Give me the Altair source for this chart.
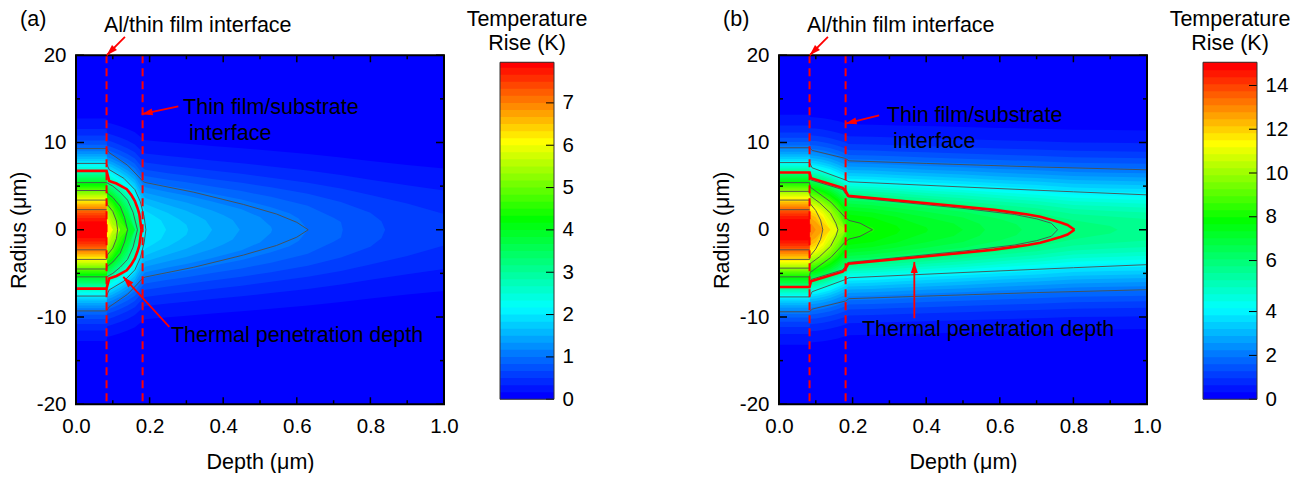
import altair as alt
import pandas as pd

W, H = 368, 349
FONT = "Liberation Sans"
FONT_SIZE = 21.5
RED = "#ff0000"
AL_EDGE = 0.083
FILM_EDGE = 0.181

BAND_COLOURS = ["#0000ff", "#00ffff", "#00ff00", "#ffff00", "#ff0000"]
BAND_STOPS = [0, 12.5, 25, 36, 47]

# ---------- panel (a): contour levels and the radius of each level ----------
LEVELS_A = [0, .167, .333, .5, .667, .833, 1, 1.167, 1.333, 1.5, 1.667, 1.833, 2, 2.167, 2.333, 2.5, 2.667, 2.833,
            3, 3.167, 3.333, 3.5, 3.667, 3.833, 4, 4.167, 4.333, 4.5, 4.667, 4.833, 5, 5.167, 5.333, 5.5, 5.667,
            5.833, 6, 6.167, 6.333, 6.5, 6.667, 6.833, 7, 7.167, 7.333, 7.5, 7.667, 7.833, 7.96]
AL_R_A = [12.75, 11.55, 10.79, 10.22, 9.75, 9.35, 8.99, 8.68, 8.39, 8.12, 7.87, 7.63, 7.41, 7.2, 6.99, 6.79, 6.6,
          6.42, 6.24, 6.07, 5.89, 5.73, 5.56, 5.4, 5.24, 5.08, 4.92, 4.76, 4.6, 4.45, 4.29, 4.13, 3.97, 3.81, 3.64,
          3.48, 3.31, 3.13, 2.95, 2.77, 2.58, 2.37, 2.16, 1.92, 1.65, 1.34, .96]
FILM_X_A = [.085, .10, .12, .14, .16, .183]
FILM_R_A = [
    [12.3, 12.13, 11.86, 11.55, 11.17, 10.36], [11.05, 10.87, 10.56, 10.22, 9.78, 8.85],
    [10.25, 10.05, 9.72, 9.34, 8.87, 7.83], [9.64, 9.43, 9.08, 8.67, 8.16, 7.01],
    [9.14, 8.92, 8.55, 8.12, 7.56, 6.31], [8.71, 8.48, 8.09, 7.63, 7.04, 5.67],
    [8.34, 8.09, 7.68, 7.19, 6.56, 5.07], [7.99, 7.74, 7.3, 6.79, 6.12, 4.47],
    [7.68, 7.41, 6.96, 6.42, 5.7, 3.89], [7.38, 7.11, 6.63, 6.06, 5.3, 3.27],
    [7.1, 6.82, 6.32, 5.72, 4.91, 2.58], [6.84, 6.55, 6.03, 5.4, 4.52, 1.74],
    [6.59, 6.29, 5.74, 5.07, 4.13, 0], [6.35, 6.03, 5.46, 4.76, 3.73, 0], [6.12, 5.79, 5.19, 4.44, 3.32, 0],
    [5.89, 5.55, 4.92, 4.12, 2.88, 0], [5.67, 5.32, 4.66, 3.81, 2.41, 0], [5.46, 5.08, 4.39, 3.47, 1.83, 0],
    [5.24, 4.85, 4.12, 3.13, 1.05, 0], [5.04, 4.63, 3.86, 2.76, 0], [4.83, 4.4, 3.58, 2.36, 0],
    [4.62, 4.17, 3.3, 1.91, 0], [4.41, 3.94, 3, 1.33, 0], [4.21, 3.71, 2.69, 0], [4, 3.47, 2.35, 0],
    [3.79, 3.23, 1.96, 0], [3.57, 2.97, 1.51, 0], [3.35, 2.7, .87, 0], [3.13, 2.42, 0], [2.89, 2.1, 0],
    [2.64, 1.74, 0], [2.37, 1.3, 0], [2.08, .6, 0], [1.75, 0], [1.36, 0], [.82, 0],
]
SUB_X_A = [.188, .25, .30, .37, .45, .53, .63, .72, .8, .9, 1.0]
SUB_R_A = [
    [10.27, 10.02, 9.85, 9.61, 9.34, 9.05, 8.68, 8.27, 7.88, 7.43, 7.03],
    [8.74, 8.44, 8.24, 7.95, 7.62, 7.26, 6.79, 6.27, 5.74, 5.11, 4.5],
    [7.7, 7.37, 7.13, 6.79, 6.41, 5.97, 5.4, 4.72, 3.98, 3.0, 1.8],
    [6.87, 6.49, 6.23, 5.83, 5.38, 4.86, 4.12, 3.19, 1.94],
    [6.15, 5.73, 5.43, 4.97, 4.43, 3.77, 2.76, .89],
    [5.49, 5.02, 4.67, 4.12, 3.46, 2.57],
    [4.87, 4.32, 3.92, 3.25, 2.35, .35],
    [4.25, 3.61, 3.11, 2.22],
    [3.63, 2.85, 2.19],
    [2.95, 1.92, .58],
    [2.17],
    [1.02],
]
SUB_CLOSE_A = [1, 1, 1, .84, .725, .63, .533, .445, .37, .305, .245, .193]
NOSE_A = {3: [(.83, .97)], 4: [(.70, 1.38)], 5: [(.58, 1.9), (.605, 1.28)], 6: [(.50, 1.45)],
          7: [(.40, 1.7), (.426, 1.11)], 8: [(.33, 1.6), (.3525, 1.1)], 9: [(.28, 1.2)], 10: [(.21, 1.65), (.231, 1.08)]}

LINES_A = [
    [(0, 9.3), (.083, 9.3), (.09, 8.85), (.14, 7.4), (.183, 5.5), (.19, 5.4), (.32, 4.3), (.455, 2.9), (.545, 1.8), (.60, .85), (.631, 0)],
    [(0, 7.6), (.083, 7.6), (.09, 6.9), (.13, 5.9), (.16, 4.6), (.175, 3.2), (.185, 1.5), (.19, 0)],
    [(0, 5.4), (.083, 5.4), (.10, 5.0), (.12, 4.3), (.14, 3.4), (.155, 2.0), (.167, 0)],
    [(0, 4.5), (.083, 4.5), (.085, 4.2), (.10, 3.7), (.12, 2.7), (.132, 1.4), (.14, 0)],
    [(0, 3.4), (.083, 3.4), (.085, 2.9), (.10, 2.1), (.11, 1.0), (.113, 0)],
    [(0, 2.3), (.083, 2.3)],
]
RED_A = [(0, 6.75), (.083, 6.75), (.09, 5.6), (.11, 5.3), (.138, 4.65), (.15, 4.0), (.16, 3.3), (.167, 2.5), (.172, 1.8), (.178, 0)]

# ---------- panel (b) ----------
LEVELS_B = [0, .32, .64, .96, 1.28, 1.6, 1.92, 2.24, 2.56, 2.88, 3.2, 3.52, 3.83, 4.13, 4.4, 4.68, 4.95, 5.23, 5.51,
            5.78, 6.06, 6.38, 6.7, 7.02, 7.34, 7.66, 7.98, 8.3, 8.62, 8.94, 9.26, 9.58, 9.9, 10.22, 10.54, 10.86,
            11.18, 11.5, 11.82, 12.14, 12.46, 12.78, 13.1, 13.42, 13.74, 14.06, 14.38, 14.7, 15.06]
AL_R_B = [13.18, 11.94, 11.15, 10.55, 10.06, 9.65, 9.28, 8.95, 8.65, 8.37, 8.11, 7.87, 7.66, 7.47, 7.28, 7.11, 6.93,
          6.75, 6.6, 6.43, 6.25, 6.07, 5.89, 5.72, 5.55, 5.38, 5.22, 5.05, 4.88, 4.72, 4.55, 4.39, 4.23, 4.06, 3.89,
          3.72, 3.54, 3.36, 3.17, 2.98, 2.79, 2.58, 2.36, 2.13, 1.87, 1.57, 1.22]
FILM_X_B = [.085, .10, .12, .14, .16, .183]
FILM_R_B = [
    [12.91, 12.87, 12.77, 12.63, 12.45, 12.19], [11.64, 11.6, 11.48, 11.33, 11.12, 10.84],
    [10.83, 10.78, 10.66, 10.5, 10.27, 9.96], [10.21, 10.16, 10.04, 9.86, 9.62, 9.29],
    [9.71, 9.66, 9.52, 9.34, 9.08, 8.73], [9.28, 9.22, 9.08, 8.89, 8.62, 8.25],
    [8.9, 8.84, 8.69, 8.49, 8.21, 7.81], [8.55, 8.49, 8.34, 8.13, 7.83, 7.42],
    [8.24, 8.17, 8.01, 7.79, 7.48, 7.05], [7.94, 7.88, 7.71, 7.48, 7.16, 6.71],
    [7.67, 7.6, 7.43, 7.19, 6.86, 6.38], [7.42, 7.35, 7.17, 6.92, 6.57, 6.07],
    [7.18, 7.11, 6.93, 6.67, 6.31, 5.79], [6.98, 6.91, 6.72, 6.45, 6.08, 5.54],
    [6.78, 6.7, 6.51, 6.24, 5.85, 5.28], [6.59, 6.51, 6.31, 6.03, 5.63, 5.04],
    [6.4, 6.32, 6.12, 5.82, 5.4, 4.79], [6.21, 6.13, 5.92, 5.61, 5.18, 4.53],
    [6.04, 5.95, 5.74, 5.42, 4.97, 4.29], [5.86, 5.77, 5.54, 5.22, 4.75, 4.03],
    [5.66, 5.57, 5.33, 4.99, 4.5, 3.73], [5.46, 5.37, 5.12, 4.77, 4.25, 3.43],
    [5.26, 5.17, 4.91, 4.54, 3.99, 3.1], [5.07, 4.97, 4.7, 4.32, 3.73, 2.77],
    [4.88, 4.77, 4.49, 4.08, 3.47, 2.39], [4.69, 4.57, 4.29, 3.85, 3.19, 1.97],
    [4.49, 4.38, 4.07, 3.62, 2.9, 1.45], [4.3, 4.18, 3.86, 3.37, 2.59, .64],
    [4.1, 3.97, 3.64, 3.12, 2.24, 0], [3.91, 3.77, 3.41, 2.85, 1.86, 0], [3.7, 3.56, 3.18, 2.57, 1.39, 0],
    [3.5, 3.35, 2.94, 2.26, .67, 0], [3.29, 3.13, 2.69, 1.93, 0], [3.07, 2.9, 2.42, 1.53, 0],
    [2.85, 2.66, 2.12, .99, 0], [2.61, 2.4, 1.79, 0], [2.35, 2.12, 1.39, 0], [2.07, 1.8, .82, 0],
    [1.75, 1.42, 0], [1.37, .93, 0], [.87, 0],
]
SUB_X_B = [.188, .254, .32, .4, .5, .6, .7, .8, .9, 1.0]
SUB_R_B = [
    [12.08, 12.03, 11.96, 11.88, 11.78, 11.67, 11.58, 11.46, 11.42, 11.38],
    [10.71, 10.66, 10.58, 10.48, 10.37, 10.25, 10.14, 10.01, 9.96, 9.92],
    [9.82, 9.77, 9.68, 9.57, 9.46, 9.32, 9.2, 9.05, 9, 8.95],
    [9.14, 9.08, 8.98, 8.87, 8.74, 8.59, 8.47, 8.31, 8.25, 8.2],
    [8.57, 8.51, 8.41, 8.28, 8.15, 7.99, 7.85, 7.68, 7.61, 7.56],
    [8.08, 8.01, 7.91, 7.77, 7.63, 7.46, 7.31, 7.13, 7.06, 7],
    [7.64, 7.57, 7.46, 7.31, 7.16, 6.97, 6.83, 6.62, 6.54, 6.48],
    [7.24, 7.16, 7.04, 6.89, 6.73, 6.53, 6.36, 6.15, 6.07, 6],
    [6.86, 6.78, 6.65, 6.5, 6.32, 6.11, 5.93, 5.7, 5.61, 5.54],
    [6.5, 6.42, 6.28, 6.12, 5.93, 5.71, 5.52, 5.27, 5.18, 5.1],
    [6.17, 6.08, 5.93, 5.76, 5.57, 5.32, 5.12, 4.85, 4.74, 4.66],
    [5.85, 5.75, 5.6, 5.41, 5.21, 4.95, 4.73, 4.44, 4.32, 4.23],
    [5.56, 5.45, 5.29, 5.1, 4.88, 4.59, 4.36, 4.04, 3.91, 3.81],
    [5.29, 5.19, 5.01, 4.8, 4.57, 4.27, 4.02, 3.66, 3.52, 3.41],
    [5.02, 4.91, 4.73, 4.51, 4.26, 3.94, 3.66, 3.27, 3.11, 2.98],
    [4.77, 4.65, 4.46, 4.22, 3.95, 3.6, 3.3, 2.85, 2.68, 2.51],
    [4.5, 4.37, 4.17, 3.91, 3.62, 3.24, 2.9, 2.38, 2.16, 1.97],
    [4.23, 4.09, 3.87, 3.6, 3.28, 2.85, 2.46, 1.81, 1.52, 1.22],
    [3.97, 3.82, 3.59, 3.29, 2.94, 2.45, 1.98, 1.08, .42],
    [3.69, 3.53, 3.28, 2.95, 2.55, 1.95, 1.33],
    [3.36, 3.19, 2.91, 2.53, 2.05, 1.24],
    [3.01, 2.82, 2.5, 2.05, 1.41],
    [2.64, 2.42, 2.04, 1.44],
    [2.23, 1.97, 1.47, .3],
    [1.75, 1.39, .47],
    [1.1, .3],
]
SUB_CLOSE_B = [1] * 18 + [.92, .75, .66, .56, .5, .405, .33, .26]
NOSE_B = {19: [(.7375, .67)], 20: [(.645, .62)], 21: [(.545, .7)], 22: [(.475, .72)]}

LINES_B = [
    [(0, 9.4), (.083, 9.4), (.09, 9.1), (.181, 8.17), (.19, 7.9), (.4, 7.6), (.7, 7.2), (1, 6.87)],
    [(0, 7.7), (.083, 7.7), (.09, 7.1), (.181, 5.7), (.19, 5.5), (.5, 4.9), (.8, 4.35), (1, 4.0)],
    [(0, 5.4), (.083, 5.4), (.0845, 4.9), (.141, 3.17), (.179, 1.45), (.19, 1.07), (.22, .76), (.254, 0)],
    [(0, 4.4), (.083, 4.4), (.0845, 3.9), (.11, 3.1), (.14, 1.9), (.155, .7), (.16, 0)],
    [(0, 3.4), (.083, 3.4), (.0845, 3.0), (.10, 2.2), (.113, 1.1), (.119, 0)],
    [(0, 2.3), (.083, 2.3)],
    [(.087, 5.7), (.173, 4.6), (.188, 3.75), (.5, 2.45), (.64, 1.75), (.70, 1.25), (.74, .75), (.757, 0)],
]
RED_B = [(0, 6.56), (.083, 6.56), (.087, 5.9), (.173, 4.8), (.181, 4.45), (.188, 3.9), (.495, 2.67), (.585, 2.28),
         (.676, 1.75), (.71, 1.48), (.739, 1.15), (.765, .82), (.784, .55), (.803, 0)]

# ---------- annotations (depth, radius) ----------
ARROWS_A = [((.133, 22.1), (.0834, 20), 225), ((.278, 14.15), (.1785, 13.24), 258), ((.2535, -11.14), (.1285, -5.41), 317)]
ARROWS_B = [((.133, 22.1), (.0834, 20), 225), ((.272, 13.12), (.181, 12.17), 256), ((.3677, -10.14), (.3677, -3.69), 0)]
TEXT_A = [("(a)", -.152, 24.0), ("Al/thin film interface", .076, 23.4), ("Thin film/substrate", .291, 13.92),
          ("interface", .307, 10.94), ("Thermal penetration depth", .258, -12.21)]
TEXT_B = [("(b)", -.152, 24.0), ("Al/thin film interface", .076, 23.4), ("Thin film/substrate", .293, 13.01),
          ("interface", .31, 10.03), ("Thermal penetration depth", .2255, -11.53)]

X_MAJOR = [0, .2, .4, .6, .8, 1.0]
X_MINOR = [.1, .3, .5, .7, .9]
Y_MAJOR = [-20, -10, 0, 10, 20]
Y_MINOR = [-15, -5, 5, 15]
CB_TICKS_A = [0, 1, 2, 3, 4, 5, 6, 7]
CB_TICKS_B = [0, 2, 4, 6, 8, 10, 12, 14]

xs = alt.Scale(domain=[0, 1], nice=False, zero=False)
ys = alt.Scale(domain=[-20, 20], nice=False, zero=False)
cs = alt.Scale(domain=BAND_STOPS, range=BAND_COLOURS, interpolate="rgb")


def contour_frame(al, fx, fr, sx, sr, close, nose):
    rows = []
    for i, a in enumerate(al):
        k = i + 1
        pts = [(0, a), (AL_EDGE, a)]
        if i < len(fr):
            pts += list(zip(fx, fr[i]))
        if i < len(sr):
            pts += list(zip(sx, sr[i]))
            pts += nose.get(i, [])
            if len(sr[i]) < len(sx):
                pts.append((close[i], 0))
        pts.sort(key=lambda p: p[0])
        for d, r in pts:
            rows.append({"depth": d, "hi": r, "lo": -r, "k": k})
    return pd.DataFrame(rows)


def line_frame(lines):
    rows = []
    for n, pts in enumerate(lines):
        for d, r in pts:
            rows.append({"depth": d, "r": r, "key": f"{n}u"})
            rows.append({"depth": d, "r": -r, "key": f"{n}l"})
    return pd.DataFrame(rows)


def panel(al, fx, fr, sx, sr, close, nose, lines, red, arrows, texts):
    X = alt.X("v:Q", scale=xs)
    Y = alt.Y("v:Q", scale=ys)
    base = alt.Chart(pd.DataFrame({"depth": [0, 1], "lo": [-20, -20], "hi": [20, 20]})).mark_area(
        color="#0000ff", opacity=1
    ).encode(
        x=alt.X("depth:Q", scale=xs, title="Depth (μm)",
                axis=alt.Axis(values=X_MAJOR, format=".1f", tickSize=0, domain=False, grid=False, labelPadding=12,
                              titlePadding=15, labelFlush=False)),
        y=alt.Y("lo:Q", scale=ys, title="Radius (μm)",
                axis=alt.Axis(values=Y_MAJOR, labelExpr="'' + datum.value", tickSize=0, domain=False, grid=False,
                              labelPadding=10, titlePadding=6)),
        y2="hi:Q",
    )
    bands = alt.Chart(contour_frame(al, fx, fr, sx, sr, close, nose)).mark_area(interpolate="linear", opacity=1).encode(
        x=alt.X("depth:Q", scale=xs), y=alt.Y("lo:Q", scale=ys), y2="hi:Q",
        color=alt.Color("k:Q", scale=cs, legend=None), detail="k:O",
    )
    thin = alt.Chart(line_frame(lines)).mark_line(color="#4d4d4d", strokeWidth=0.9).encode(
        x=alt.X("depth:Q", scale=xs), y=alt.Y("r:Q", scale=ys), detail="key:N")
    thick = alt.Chart(line_frame([red])).mark_line(color=RED, strokeWidth=2.6).encode(
        x=alt.X("depth:Q", scale=xs), y=alt.Y("r:Q", scale=ys), detail="key:N")
    dash = alt.Chart(pd.DataFrame({"v": [AL_EDGE, FILM_EDGE]})).mark_rule(
        color=RED, strokeWidth=2, strokeDash=[8, 5]).encode(x=X, y=alt.value(0), y2=alt.value(H))

    def ticks(vals, horiz, length):
        d = pd.DataFrame({"v": vals})
        if horiz:
            return (alt.Chart(d).mark_rule(color="black", strokeWidth=1.5).encode(y=Y, x=alt.value(0), x2=alt.value(length))
                    + alt.Chart(d).mark_rule(color="black", strokeWidth=1.5).encode(y=Y, x=alt.value(W - length), x2=alt.value(W)))
        return (alt.Chart(d).mark_rule(color="black", strokeWidth=1.5).encode(x=X, y=alt.value(H), y2=alt.value(H - length))
                + alt.Chart(d).mark_rule(color="black", strokeWidth=1.5).encode(x=X, y=alt.value(0), y2=alt.value(length)))

    frame = alt.Chart().mark_rect(fillOpacity=0, stroke="black", strokeWidth=2).encode(
        x=alt.value(0), x2=alt.value(W), y=alt.value(0), y2=alt.value(H))

    shaft_rows, head_rows = [], []
    for n, (s, t, a) in enumerate(arrows):
        shaft_rows += [{"depth": s[0], "r": s[1], "n": n}, {"depth": t[0], "r": t[1], "n": n}]
        head_rows.append({"depth": t[0], "r": t[1], "a": a})
    shafts = alt.Chart(pd.DataFrame(shaft_rows)).mark_line(color=RED, strokeWidth=1.8).encode(
        x=alt.X("depth:Q", scale=xs), y=alt.Y("r:Q", scale=ys), detail="n:N")
    heads = alt.Chart(pd.DataFrame(head_rows)).mark_point(
        shape="M0,0L0.7,2.2L-0.7,2.2Z", size=100, filled=True, fill=RED, opacity=1, strokeWidth=0
    ).encode(x=alt.X("depth:Q", scale=xs), y=alt.Y("r:Q", scale=ys), angle=alt.Angle("a:Q", scale=None))
    labels = alt.Chart(pd.DataFrame(texts, columns=["t", "depth", "r"])).mark_text(
        align="left", baseline="middle", font=FONT, fontSize=FONT_SIZE, color="black"
    ).encode(x=alt.X("depth:Q", scale=xs), y=alt.Y("r:Q", scale=ys), text="t:N")

    return alt.layer(base, bands, thin, thick, dash, ticks(X_MAJOR, False, 7), ticks(X_MINOR, False, 4),
                     ticks(Y_MAJOR, True, 8), ticks(Y_MINOR, True, 4), frame, shafts, heads, labels
                     ).properties(width=W, height=H)


def colourbar(levels, tick_vals, domain, rng):
    cbw = 54
    rows = [{"y0": levels[i], "y1": levels[-1], "k": i} for i in range(len(levels) - 1)]
    sc = alt.Scale(domain=domain, range=rng, nice=False, zero=False)
    bars = alt.Chart(pd.DataFrame(rows)).mark_rect(strokeWidth=0).encode(
        x=alt.value(0), x2=alt.value(cbw),
        y=alt.Y("y0:Q", scale=sc, title=None,
                axis=alt.Axis(orient="right", values=tick_vals, tickSize=0, domain=False, grid=False,
                              labelPadding=8, labelExpr="'' + datum.value")),
        y2="y1:Q",
        color=alt.Color("k:Q", scale=cs, legend=None),
    )
    tk = alt.Chart(pd.DataFrame({"v": tick_vals})).mark_rule(color="black", strokeWidth=1).encode(
        y=alt.Y("v:Q", scale=sc), x=alt.value(cbw - 8), x2=alt.value(cbw))
    frame = alt.Chart().mark_rect(fillOpacity=0, stroke="#333333", strokeWidth=1).encode(
        x=alt.value(0), x2=alt.value(cbw), y=alt.value(rng[-1]), y2=alt.value(rng[0]))
    ttl = alt.Chart(pd.DataFrame({"t": ["Temperature", "Rise (K)"], "py": [-35, -11]})).mark_text(
        align="center", baseline="middle", font=FONT, fontSize=FONT_SIZE, color="black"
    ).encode(x=alt.value(cbw / 2), y=alt.Y("py:Q", scale=None), text="t:N")
    return alt.layer(bars, tk, frame, ttl).properties(width=cbw, height=H)


panel_a = panel(AL_R_A, FILM_X_A, FILM_R_A, SUB_X_A, SUB_R_A, SUB_CLOSE_A, NOSE_A, LINES_A, RED_A, ARROWS_A, TEXT_A)
panel_b = panel(AL_R_B, FILM_X_B, FILM_R_B, SUB_X_B, SUB_R_B, SUB_CLOSE_B, NOSE_B, LINES_B, RED_B, ARROWS_B, TEXT_B)
cb_a = colourbar(LEVELS_A, CB_TICKS_A, [0, 7.96], [344, 7])
cb_b = colourbar(LEVELS_B, CB_TICKS_B, [0, 4, 6, 15.06], [344, 256.3, 205.3, 7])
spacer = alt.Chart().mark_text().encode(x=alt.value(0)).properties(width=112.5, height=H)

chart = alt.hconcat(panel_a, cb_a, spacer, panel_b, cb_b, spacing=56, bounds="flush").properties(
    padding={"left": 0, "top": 1.25, "right": 0, "bottom": 0}
).configure_view(strokeWidth=0).configure_axis(
    labelFont=FONT, titleFont=FONT, labelFontSize=20.5, titleFontSize=FONT_SIZE, labelColor="black", titleColor="black",
    titleFontWeight="normal"
)

chart.save("out.html", embed_options={"renderer": "svg", "actions": False})
